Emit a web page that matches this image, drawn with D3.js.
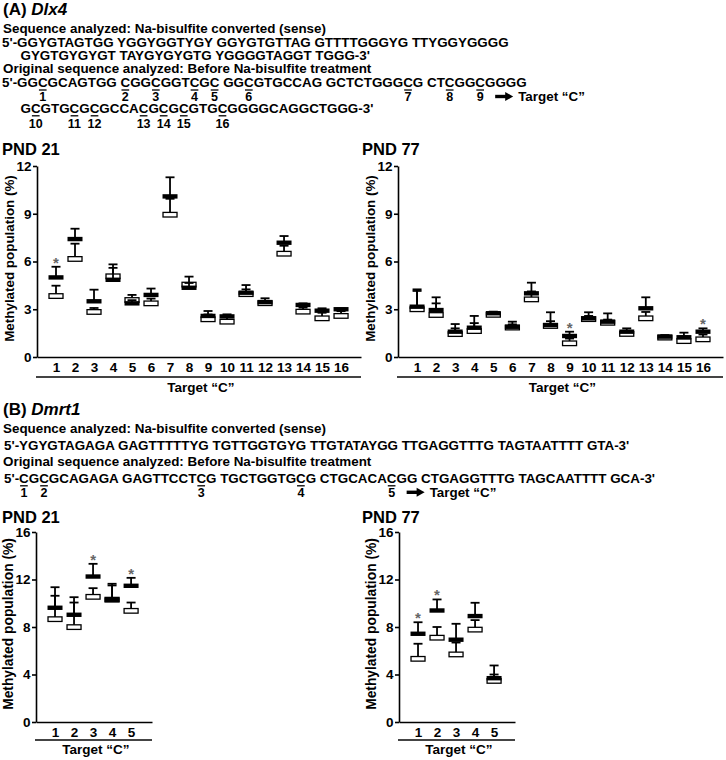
<!DOCTYPE html>
<html><head><meta charset="utf-8">
<script src="https://cdn.jsdelivr.net/npm/d3@7"></script>
<style>
body{margin:0;background:#fff}
svg text{font-family:"Liberation Sans",Arial,sans-serif;font-weight:bold;fill:#000}
</style>
</head><body>
<svg id="c" width="726" height="760"></svg>
<script>
// ---------- sequences ----------
const dlx4Bisulfite = ["5'-GGYGTAGTGG YGGYGGTYGY GGYGTGTTAG GTTTTGGGYG TTYGGYGGGG", "GYGTGYGYGT TAYGYGYGTG YGGGGTAGGT TGGG-3'"];
const dlx4Original  = ["5'-GGCGCAGTGG CGGCGGTCGC GGCGTGCCAG GCTCTGGGCG CTCGGCGGGG", "GCGTGCGCGCCACGCGCGTGCGGGGCAGGCTGGG-3'"];
const dmrt1Bisulfite = ["5'-YGYGTAGAGA GAGTTTTTYG TGTTGGTGYG TTGTATAYGG TTGAGGTTTG TAGTAATTTT GTA-3'"];
const dmrt1Original  = ["5'-CGCGCAGAGA GAGTTCCTCG TGCTGGTGCG CTGCACACGG CTGAGGTTTG TAGCAATTTT GCA-3'"];

// ---------- data ----------
const dlx4Targets = d3.range(1, 17);
const dlx4Ticks = [0, 3, 6, 9, 12];
const dlx4P21Black    = [5.0, 7.41, 3.5, 4.85, 3.37, 3.9, 10.09, 4.35, 2.58, 2.55, 4.04, 3.45, 7.18, 3.27, 2.91, 3.0];
const dlx4P21BlackSem = [0.67, 0.65, 0.73, 0.75, 0.2, 0.4, 1.2, 0.3, 0.31, 0.13, 0.48, 0.24, 0.42, 0.1, 0.15, 0.05];
const dlx4P21White    = [3.83, 6.16, 2.83, 5.07, 3.58, 3.37, 8.94, 4.55, 2.37, 2.22, 3.95, 3.38, 6.49, 2.85, 2.43, 2.58];
const dlx4P21WhiteSem = [0.65, 0.96, 0.25, 0.75, 0.32, 0.3, 1.0, 0.5, 0.3, 0.3, 0.3, 0.15, 0.5, 0.25, 0.35, 0.3];
const dlx4P21Stars = [1];

const dlx4P77Black    = [3.16, 2.95, 1.59, 1.84, 2.75, 1.9, 4.0, 2.01, 1.32, 2.43, 2.22, 1.59, 3.06, 1.28, 1.24, 1.59];
const dlx4P77BlackSem = [1.09, 0.8, 0.48, 0.74, 0.1, 0.32, 0.67, 0.8, 0.27, 0.38, 0.52, 0.21, 0.69, 0.1, 0.29, 0.21];
const dlx4P77White    = [3.0, 2.64, 1.44, 1.63, 2.65, 1.85, 3.62, 1.95, 0.86, 2.38, 2.15, 1.45, 2.43, 1.22, 1.0, 1.11];
const dlx4P77WhiteSem = [1.15, 0.73, 0.36, 0.5, 0.1, 0.2, 0.5, 0.3, 0.3, 0.2, 0.2, 0.2, 0.4, 0.1, 0.3, 0.3];
const dlx4P77Stars = [9, 16];

const dmrt1Targets = d3.range(1, 6);
const dmrt1Ticks = [0, 4, 8, 12, 16];
const dmrt1P21Black    = [9.62, 9.03, 12.25, 10.29, 11.47];
const dmrt1P21BlackSem = [1.73, 1.48, 1.07, 1.35, 0.67];
const dmrt1P21White    = [8.66, 7.99, 10.54, 10.3, 9.36];
const dmrt1P21WhiteSem = [1.97, 2.07, 0.73, 1.2, 0.7];
const dmrt1P21Stars = [3, 5];

const dmrt1P77Black    = [7.43, 9.39, 6.93, 8.92, 3.69];
const dmrt1P77BlackSem = [0.97, 0.93, 1.34, 1.12, 1.07];
const dmrt1P77White    = [5.32, 7.1, 5.69, 7.78, 3.46];
const dmrt1P77WhiteSem = [1.27, 0.9, 1.0, 0.8, 0.54];
const dmrt1P77Stars = [1, 2];

// ---------- drawing ----------
const svg = d3.select("#c");
const SEQ_FS = 13.4;

function targetIndices(bis, orig) {
  // indices (per line) of the C positions that correspond to Y in the converted sequence
  const bisFlat = bis.join("").replace(/ /g, "");
  let k = 0; const out = [];
  orig.forEach((line, li) => {
    for (let i = 0; i < line.length; i++) {
      if (line[i] === " ") continue;
      if (bisFlat[k] === "Y") out.push({line: li, idx: i});
      k++;
    }
  });
  return out;
}

function arrow(g, x0, x1, y) {
  g.append("line").attr("x1", x0).attr("x2", x1 - 6).attr("y1", y).attr("y2", y)
    .attr("stroke", "#000").attr("stroke-width", 3.4);
  g.append("path").attr("d", `M${x1 - 8},${y - 4.5}L${x1},${y}L${x1 - 8},${y + 4.5}Z`).attr("fill", "#000");
}

function seqBlock(o) {
  const g = svg.append("g");
  const t = g.append("text").attr("x", 3).attr("y", o.titleY).attr("font-size", 17);
  t.append("tspan").text(o.letter + " ");
  t.append("tspan").attr("font-style", "italic").text(o.gene);
  g.append("text").attr("x", 3).attr("y", o.headY).attr("font-size", SEQ_FS)
    .text("Sequence analyzed: Na-bisulfite converted (sense)");
  o.bis.forEach((s, i) => {
    g.append("text").attr("x", o.lineX[i]).attr("y", o.bisY[i]).attr("font-size", SEQ_FS).text(s);
  });
  g.append("text").attr("x", 3).attr("y", o.origHeadY).attr("font-size", SEQ_FS)
    .text("Original sequence analyzed: Before Na-bisulfite treatment");
  const nodes = o.orig.map((s, i) =>
    g.append("text").attr("x", o.lineX[i]).attr("y", o.origY[i]).attr("font-size", SEQ_FS).text(s).node());
  const targets = targetIndices(o.bis, o.orig);
  let lastLine0 = null;
  targets.forEach((tg, n) => {
    const node = nodes[tg.line];
    const a = node.getStartPositionOfChar(tg.idx).x;
    const b = node.getEndPositionOfChar(tg.idx).x;
    const cx = (a + b) / 2;
    const by = o.origY[tg.line];
    g.append("line").attr("x1", a + 1).attr("x2", b - 1).attr("y1", by + 3).attr("y2", by + 3)
      .attr("stroke", "#000").attr("stroke-width", 1.3);
    g.append("text").attr("x", cx).attr("y", by + o.numDy[tg.line]).attr("font-size", 12.5)
      .attr("text-anchor", "middle").text(n + 1);
    if (tg.line === 0) lastLine0 = {cx, y: by + o.numDy[0]};
  });
  arrow(g, lastLine0.cx + 15, lastLine0.cx + 33, lastLine0.y - 4.5);
  g.append("text").attr("x", lastLine0.cx + 38).attr("y", lastLine0.y).attr("font-size", SEQ_FS)
    .text("Target \u201CC\u201D");
}

seqBlock({letter: "(A)", gene: "Dlx4", titleY: 15, headY: 33,
  bis: dlx4Bisulfite, orig: dlx4Original, lineX: [2, 20.5],
  bisY: [46.5, 60], origHeadY: 73.3, origY: [87, 112.8], numDy: [14, 15.5]});
seqBlock({letter: "(B)", gene: "Dmrt1", titleY: 414.5, headY: 432.8,
  bis: dmrt1Bisulfite, orig: dmrt1Original, lineX: [4],
  bisY: [449.5], origHeadY: 465.8, origY: [482.8], numDy: [14]});

function panel(o) {
  const g = svg.append("g");
  const x = d3.scaleLinear().domain([0, o.targets.length + o.pad]).range([o.ax, o.xEnd]);
  const y = d3.scaleLinear().domain([0, o.yMax]).range([o.yBot, o.yTop]);

  g.append("text").attr("x", o.titleX).attr("y", o.titleY).attr("font-size", 16.5).text(o.title);

  const ya = g.append("g").attr("transform", `translate(${o.ax},0)`)
    .call(d3.axisLeft(y).tickValues(o.ticks).tickFormat(d3.format("d"))
      .tickSize(4).tickPadding(1.5).tickSizeOuter(0));
  ya.selectAll("path,line").attr("stroke", "#000").attr("stroke-width", 1.6);
  ya.selectAll("text").attr("font-size", 13.5).attr("font-family", null);

  const xa = g.append("g").attr("transform", `translate(0,${o.yBot})`)
    .call(d3.axisBottom(x).tickValues(o.targets).tickFormat(d3.format("d"))
      .tickSize(0).tickPadding(5.5).tickSizeOuter(0));
  xa.selectAll("path").attr("stroke", "#000").attr("stroke-width", 1.6);
  xa.selectAll("text").attr("font-size", 13.5).attr("font-family", null);

  g.append("text")
    .attr("transform", `translate(${o.ax - 23.5},${(o.yTop + o.yBot) / 2 - 3}) rotate(-90)`)
    .attr("text-anchor", "middle").attr("font-size", o.labFs).text("Methylated population (%)");

  g.append("line").attr("x1", o.ax - 1).attr("x2", o.xEnd).attr("y1", o.yBot + o.ulDy).attr("y2", o.yBot + o.ulDy)
    .attr("stroke", "#444").attr("stroke-width", 2);
  g.append("text").attr("x", (o.ax + o.xEnd) / 2 + 2).attr("y", o.yBot + o.ttDy)
    .attr("text-anchor", "middle").attr("font-size", 13.5).text("Target \u201CC\u201D");

  function series(vals, sems, black) {
    const d = o.targets.map((t, i) => ({t, v: vals[i], s: sems[i]}));
    const s = g.append("g");
    s.selectAll(".v").data(d).join("line")
      .attr("x1", e => x(e.t)).attr("x2", e => x(e.t))
      .attr("y1", e => y(e.v)).attr("y2", e => y(e.v + e.s))
      .attr("stroke", "#000").attr("stroke-width", 1.8);
    s.selectAll(".cap").data(d).join("line")
      .attr("x1", e => x(e.t) - 4.5).attr("x2", e => x(e.t) + 4.5)
      .attr("y1", e => y(e.v + e.s)).attr("y2", e => y(e.v + e.s))
      .attr("stroke", "#000").attr("stroke-width", 1.8);
    if (black) {
      s.selectAll(".b").data(d).join("rect")
        .attr("x", e => x(e.t) - 7.5).attr("y", e => y(e.v) - 2.2).attr("width", 15).attr("height", 4.4)
        .attr("fill", "#000");
    } else {
      s.selectAll(".b").data(d).join("rect")
        .attr("x", e => x(e.t) - 7).attr("y", e => y(e.v) - 2.3).attr("width", 14).attr("height", 4.6)
        .attr("fill", "#fff").attr("stroke", "#000").attr("stroke-width", 1.3);
    }
    return d;
  }
  series(o.white, o.whiteSem, false);
  const bd = series(o.black, o.blackSem, true);
  g.selectAll(".star").data(bd.filter(e => o.stars.includes(e.t))).join("text")
    .attr("x", e => x(e.t)).attr("y", e => y(e.v + e.s) + 1)
    .attr("text-anchor", "middle").attr("font-size", 15).style("fill", "#666").text("*");
}

const dlx4Geo = {targets: dlx4Targets, ticks: dlx4Ticks, yMax: 12, yTop: 166, yBot: 357, pad: 1.05,
  titleY: 155, ulDy: 20, ttDy: 35, labFs: 13.4};
panel(Object.assign({}, dlx4Geo, {title: "PND 21", titleX: 2, ax: 37, xEnd: 361,
  black: dlx4P21Black, blackSem: dlx4P21BlackSem, white: dlx4P21White, whiteSem: dlx4P21WhiteSem, stars: dlx4P21Stars}));
panel(Object.assign({}, dlx4Geo, {title: "PND 77", titleX: 362, ax: 398, xEnd: 723,
  black: dlx4P77Black, blackSem: dlx4P77BlackSem, white: dlx4P77White, whiteSem: dlx4P77WhiteSem, stars: dlx4P77Stars}));

const dmrt1Geo = {targets: dmrt1Targets, ticks: dmrt1Ticks, yMax: 16, yTop: 532, yBot: 722, pad: 1.1,
  titleY: 522.7, ulDy: 18, ttDy: 32, labFs: 13.8};
panel(Object.assign({}, dmrt1Geo, {title: "PND 21", titleX: 2, ax: 36, xEnd: 152,
  black: dmrt1P21Black, blackSem: dmrt1P21BlackSem, white: dmrt1P21White, whiteSem: dmrt1P21WhiteSem, stars: dmrt1P21Stars}));
panel(Object.assign({}, dmrt1Geo, {title: "PND 77", titleX: 362, ax: 399, xEnd: 515,
  black: dmrt1P77Black, blackSem: dmrt1P77BlackSem, white: dmrt1P77White, whiteSem: dmrt1P77WhiteSem, stars: dmrt1P77Stars}));
</script>
</body></html>
